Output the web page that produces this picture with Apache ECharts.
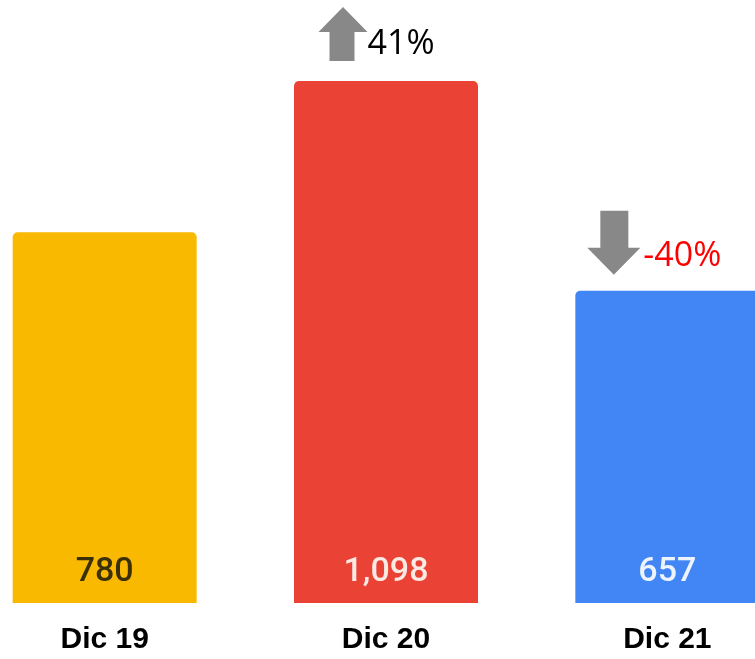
<!DOCTYPE html>
<html>
<head>
<meta charset="utf-8">
<script src="https://cdn.jsdelivr.net/npm/echarts@6/dist/echarts.min.js"></script>
<style>
  html, body { margin: 0; padding: 0; background: #fff; overflow: hidden; }
  #chart { width: 844px; height: 659px; position: relative; left: -36px; }
</style>
</head>
<body>
<div id="chart"></div>
<script>
// datos
var categories = ['Dic 19', 'Dic 20', 'Dic 21'];
var values = [780, 1098, 657];
var barColors = ['#F8B900', '#EA4335', '#4285F4'];
var labelColors = ['#3a2f05', '#fbe9e4', '#eef4fe'];
var changes = [null, '41%', '-40%'];

var upArrow = 'path://M24.5,0 L49,25 L36,25 L36,54 L11,54 L11,25 L0,25 Z';
var downArrow = 'path://M13,0 L41,0 L41,37 L53,37 L26.5,64 L0,37 L13,37 Z';

var chart = echarts.init(document.getElementById('chart'));

var arrowData = [];
changes.forEach(function (c, i) {
  if (!c) return;
  var up = c.charAt(0) !== '-';
  arrowData.push({
    value: [i, values[i]],
    name: c,
    symbol: up ? upArrow : downArrow,
    symbolSize: up ? [49, 54] : [53, 64],
    symbolOffset: up ? [-43, -47] : [-53.5, -48],
    label: {
      color: up ? '#000' : '#ff0000',
      distance: up ? 0 : 3,
      offset: up ? [0, 10] : [0, 14]
    }
  });
});

chart.setOption({
  animation: false,
  grid: { left: 0, right: 0, top: 4, bottom: 56 },
  xAxis: {
    type: 'category',
    data: categories,
    axisLine: { show: false },
    axisTick: { show: false },
    axisLabel: {
      margin: 22,
      color: '#000',
      fontFamily: 'Liberation Sans',
      fontWeight: 'bold',
      fontSize: 30
    }
  },
  yAxis: {
    type: 'value',
    min: 0,
    max: 1260,
    show: false,
    splitLine: { show: false }
  },
  series: [
    {
      type: 'bar',
      barWidth: 184,
      data: values.map(function (v, i) {
        return {
          value: v,
          itemStyle: { color: barColors[i], borderRadius: [5, 5, 0, 0] },
          label: { color: labelColors[i] }
        };
      }),
      label: {
        show: true,
        position: 'insideBottom',
        distance: 14,
        fontFamily: 'Roboto',
        fontWeight: 500,
        fontSize: 34,
        formatter: function (p) {
          return p.value.toLocaleString('en-US');
        }
      }
    },
    {
      type: 'scatter',
      data: arrowData,
      itemStyle: { color: '#888888', opacity: 1 },
      z: 5,
      label: {
        show: true,
        position: 'right',
        fontFamily: 'Open Sans',
        fontSize: 34,
        formatter: '{b}'
      }
    }
  ]
});
</script>
</body>
</html>
